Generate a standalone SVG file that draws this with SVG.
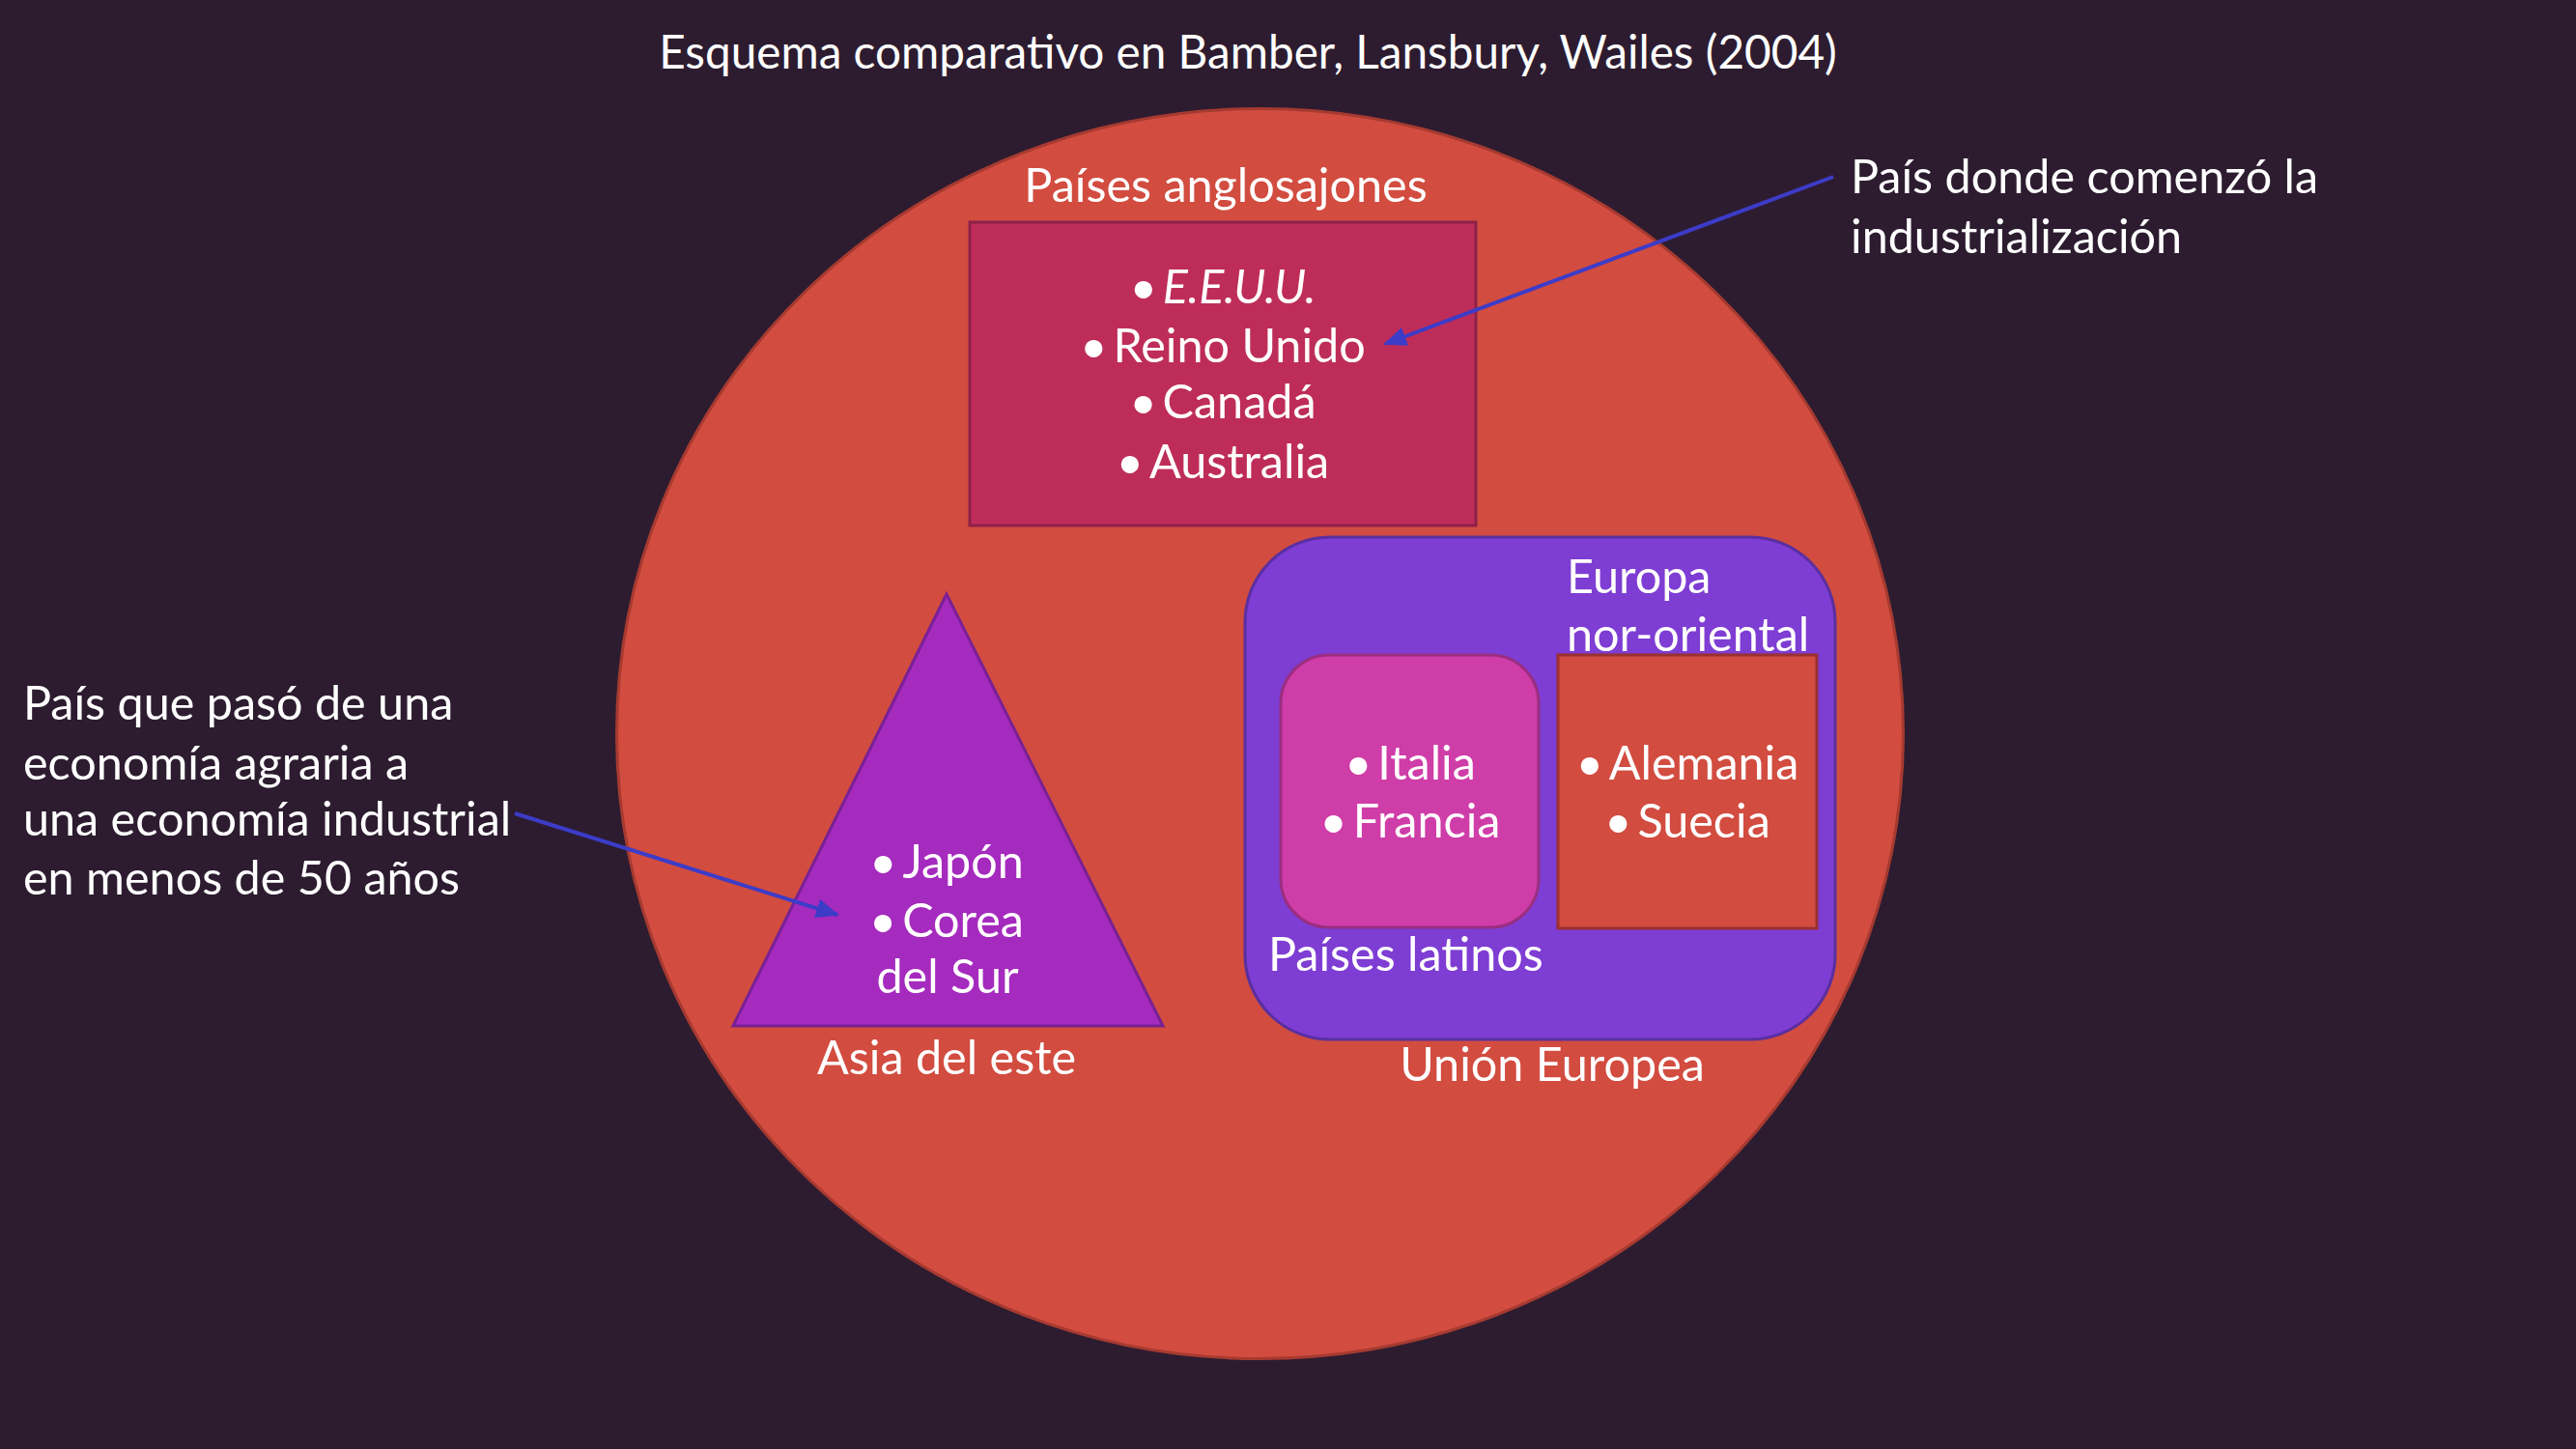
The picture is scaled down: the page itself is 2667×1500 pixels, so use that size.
<svg xmlns="http://www.w3.org/2000/svg" width="2667" height="1500" viewBox="0 0 2667 1500">
<style>
text { font-family: Lato, "Open Sans", "Liberation Sans", sans-serif; fill: #FFFFFF; font-size: 48.5px; }
.t { font-size: 47.7px; }
.c { text-anchor: middle; }
.conn { stroke: #3C3CC8; stroke-width: 4; fill: none; marker-end: url(#ah); }
</style>
<defs>
<marker id="ah" markerWidth="6" markerHeight="5" refX="5.5" refY="2.5" orient="auto" markerUnits="strokeWidth">
<path d="M0,0 L6,2.5 L0,5 Z" fill="#3C3CC8"/>
</marker>
</defs>
<rect x="0" y="0" width="2667" height="1500" fill="#2D1C30"/>
<text class="c t" x="1292" y="71">Esquema comparativo en Bamber, Lansbury, Wailes (2004)</text>
<g id="paises">
<ellipse cx="1304.5" cy="759.5" rx="666" ry="647" fill="#D24C40" stroke="#A63A30" stroke-width="3"/>
</g>
<g id="anglosajones">
<text class="c" x="1269" y="209">Países anglosajones</text>
<rect x="1004" y="230" width="524" height="314" fill="#BE2D5A" stroke="#8E2048" stroke-width="3"/>
<text class="c" x="1266" y="314">•<tspan dx="6" font-style="italic">E.E.U.U.</tspan></text>
<text class="c" x="1266" y="375">•<tspan dx="6">Reino Unido</tspan></text>
<text class="c" x="1266" y="433">•<tspan dx="6">Canadá</tspan></text>
<text class="c" x="1266" y="495">•<tspan dx="6">Australia</tspan></text>
</g>
<g id="asia">
<polygon points="980,615 759,1062 1204,1062" fill="#A52ABE" stroke="#7A2095" stroke-width="3"/>
<text class="c" x="980" y="909">•<tspan dx="6">Japón</tspan></text>
<text class="c" x="980" y="970">•<tspan dx="6">Corea</tspan></text>
<text class="c" x="981" y="1028">del Sur</text>
<text class="c" x="980" y="1112">Asia del este</text>
</g>
<g id="ue">
<rect x="1289" y="556" width="611" height="520" rx="88" ry="88" fill="#7E3DD3" stroke="#5A2FA0" stroke-width="3"/>
<text x="1622" y="614">Europa</text>
<text x="1622" y="674">nor-oriental</text>
<text x="1313" y="1005">Países latinos</text>
<text class="c" x="1607" y="1119">Unión Europea</text>
</g>
<g id="latinos">
<rect x="1326" y="678" width="267" height="282" rx="50" ry="50" fill="#CF3DA8" stroke="#9A2E80" stroke-width="3"/>
<text class="c" x="1460" y="807">•<tspan dx="6">Italia</tspan></text>
<text class="c" x="1460" y="867">•<tspan dx="6">Francia</tspan></text>
</g>
<g id="nororiental">
<rect x="1613" y="678" width="268" height="283" fill="#D24C40" stroke="#9A3030" stroke-width="3"/>
<text class="c" x="1747" y="807">•<tspan dx="6">Alemania</tspan></text>
<text class="c" x="1747" y="867">•<tspan dx="6">Suecia</tspan></text>
</g>
<g id="nota-industrializacion">
<text x="1916" y="200">País donde comenzó la</text>
<text x="1916" y="262">industrialización</text>
</g>
<g id="nota-agraria">
<text x="24" y="745">País que pasó de una</text>
<text x="24" y="807">economía agraria a</text>
<text x="24" y="865">una economía industrial</text>
<text x="24" y="926">en menos de 50 años</text>
</g>
<g id="connectors">
<line class="conn" x1="1898" y1="183" x2="1434" y2="356"/>
<line class="conn" x1="533" y1="842" x2="867" y2="947"/>
</g>
</svg>
